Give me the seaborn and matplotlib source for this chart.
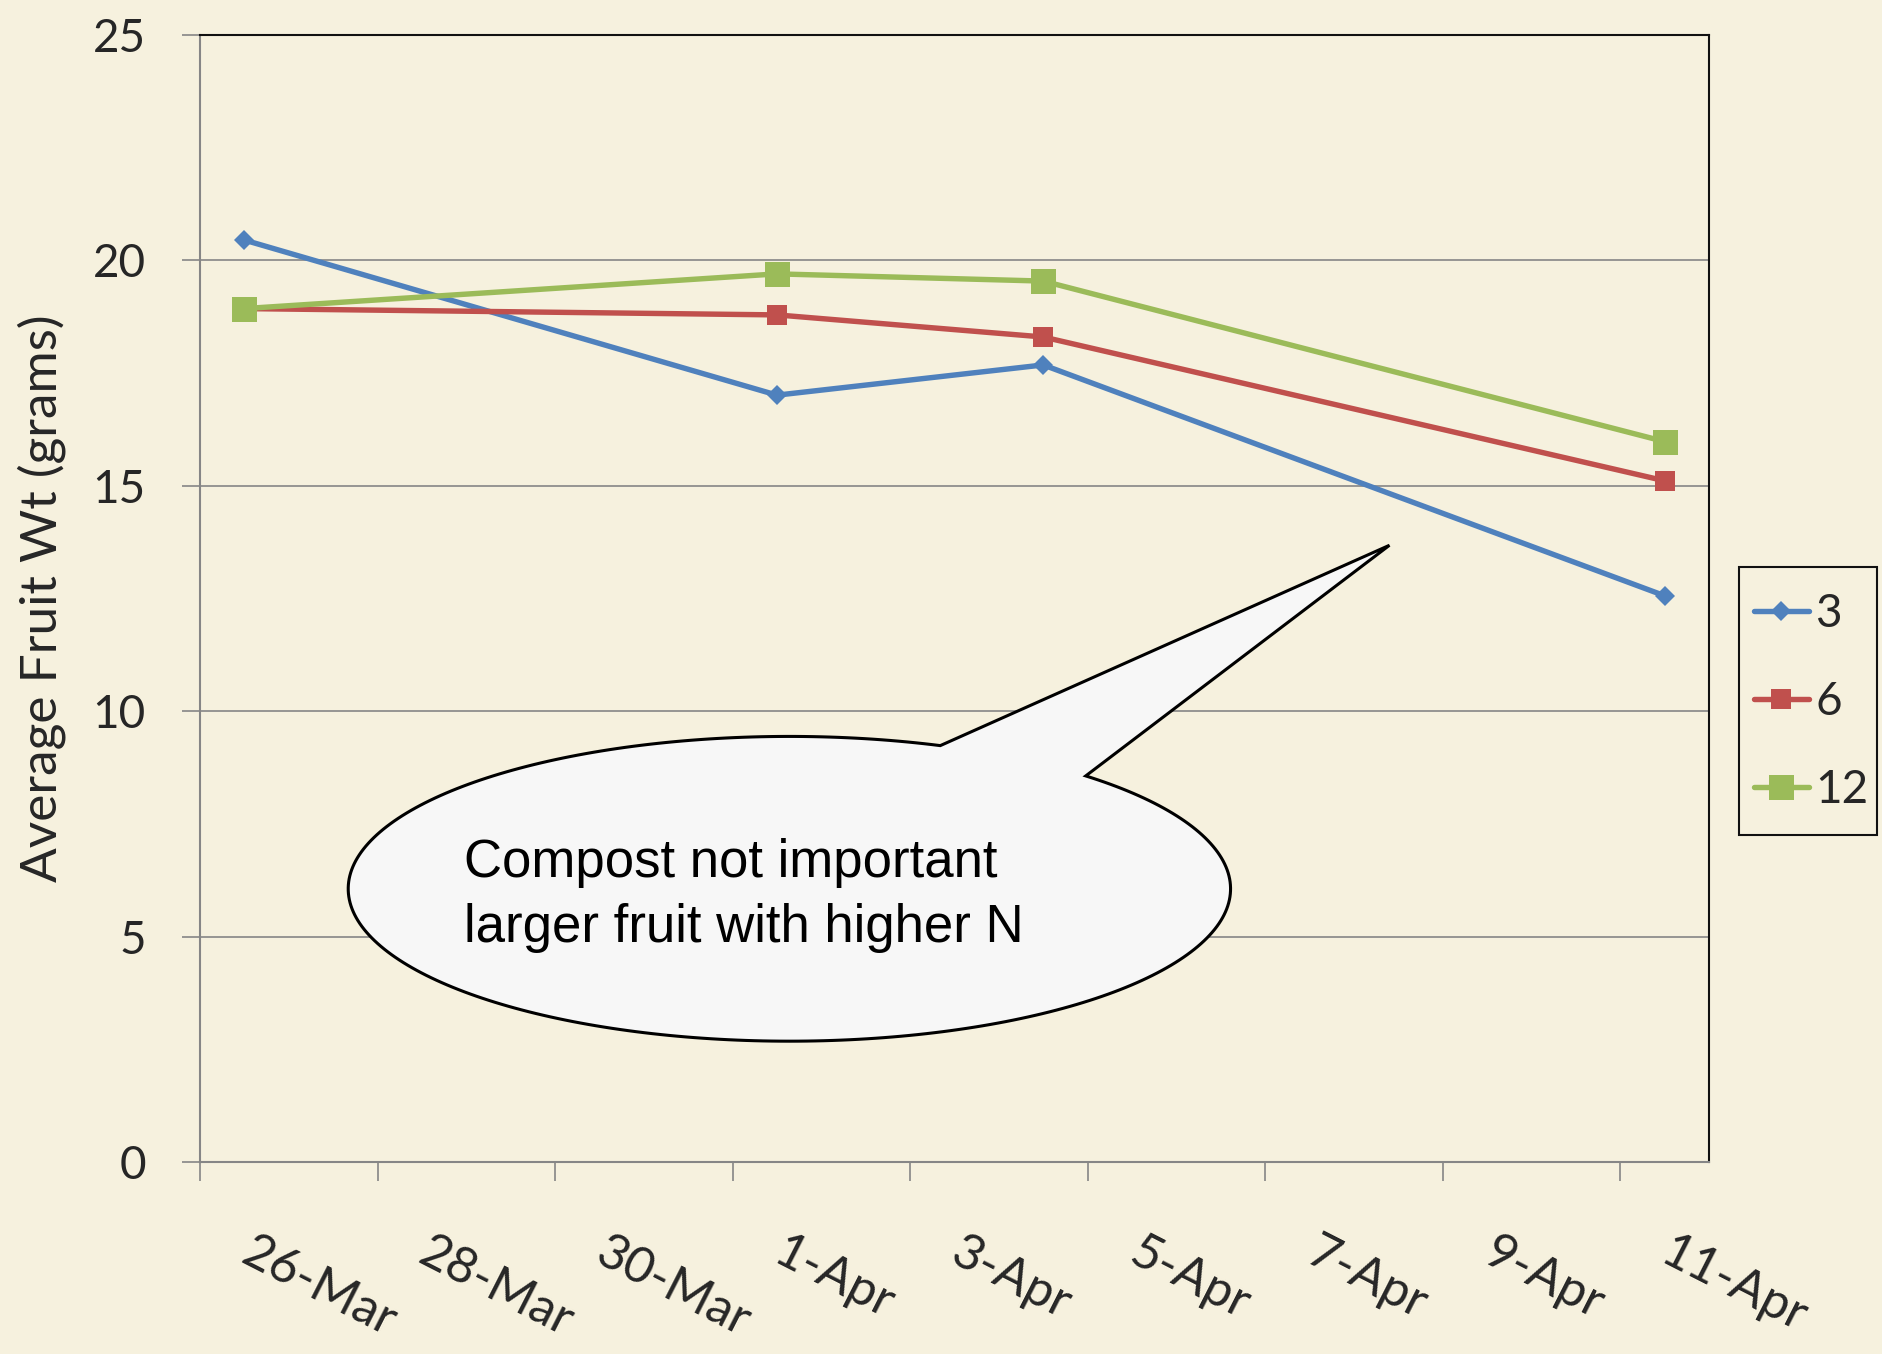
import numpy as np
import pandas as pd
import matplotlib
matplotlib.use('Agg')
import matplotlib.pyplot as plt
import matplotlib.transforms as mtransforms
from matplotlib.patches import Rectangle
import seaborn as sns

# data (day 0 = 26-Mar, points sit at mid-day)
dates = ['26-Mar', '1-Apr', '4-Apr', '11-Apr']
days = [0.5, 6.5, 9.5, 16.5]
n_3 = [20.45, 17.01, 17.68, 12.56]
n_6 = [18.93, 18.79, 18.30, 15.11]
n_12 = [18.93, 19.70, 19.54, 15.98]

tick_days = [0, 2, 4, 6, 8, 10, 12, 14, 16]
tick_labels = ['26-Mar', '28-Mar', '30-Mar', '1-Apr', '3-Apr', '5-Apr', '7-Apr', '9-Apr', '11-Apr']
y_ticks = [0, 5, 10, 15, 20, 25]

note = 'Compost not important\nlarger fruit with higher N'

df = pd.DataFrame({
    'day': days * 3,
    'wt': n_3 + n_6 + n_12,
    'N': ['3'] * 4 + ['6'] * 4 + ['12'] * 4,
})

bg = '#F6F1DE'
colors = {'3': '#4F81BD', '6': '#C0504D', '12': '#9BBB59'}
markers = {'3': 'D', '6': 's', '12': 's'}
msizes = {'3': 10.5, '6': 14.5, '12': 18}

sns.set_style('white')
plt.rcParams['font.family'] = ['Lato', 'DejaVu Sans']

fig = plt.figure(figsize=(18.83, 13.54), dpi=100, facecolor=bg)
ax = fig.add_axes([0.1062, 0.1418, 0.8014, 0.8324])
ax.set_facecolor(bg)

handles = []
for key in ['3', '6', '12']:
    sub = df[df['N'] == key]
    sns.lineplot(data=sub, x='day', y='wt', ax=ax, color=colors[key], lw=3.9,
                 marker=markers[key], markersize=msizes[key], markeredgewidth=0,
                 zorder=3, label=key, legend=False)
    handles.append(ax.lines[-1])

ax.set_xlim(0, 17)
ax.set_ylim(0, 25)
ax.set_yticks(y_ticks)
ax.set_yticklabels([str(v) for v in y_ticks], fontsize=33)
ax.set_xticks(tick_days)
ax.set_xticklabels(tick_labels, fontsize=36, rotation=-27, ha='left', va='top',
                   rotation_mode='anchor')

ax.grid(axis='y', color='#868686', lw=1.2, zorder=1)
ax.set_axisbelow(True)
ax.tick_params(axis='y', direction='out', length=13, width=1.2, color='#868686',
               pad=26, left=True)
ax.tick_params(axis='x', direction='out', length=14, width=1.2, color='#868686',
               pad=34, bottom=True)
# nudge the slanted date labels to the right, like the original
shift = mtransforms.ScaledTranslation(0.55, 0, fig.dpi_scale_trans)
for lab in ax.get_xticklabels():
    lab.set_transform(lab.get_transform() + shift)

for side in ['left', 'bottom']:
    ax.spines[side].set_color('#868686')
    ax.spines[side].set_linewidth(1.5)
for side in ['top', 'right']:
    ax.spines[side].set_color('#111111')
    ax.spines[side].set_linewidth(1.5)
    ax.spines[side].set_visible(True)

ax.set_xlabel('')
ax.set_ylabel('Average Fruit Wt (grams)', fontsize=37)
ax.yaxis.set_label_coords(-0.089, 0.50)

# speech-bubble callout (data units)
cx, cy, ea, eb = 6.64, 6.06, 4.97, 3.38
tip = (13.4, 13.68)
a0, a1 = np.deg2rad(70), np.deg2rad(360 + 47.8)
t = np.linspace(a0, a1, 300)
bx = np.concatenate([cx + ea * np.cos(t), [tip[0]], [cx + ea * np.cos(a0)]])
by = np.concatenate([cy + eb * np.sin(t), [tip[1]], [cy + eb * np.sin(a0)]])
ax.fill(bx, by, facecolor='#F7F7F7', edgecolor='black', lw=2.2, zorder=5,
        joinstyle='miter')
ax.text(2.98, 5.92, note, fontsize=38, family='Liberation Sans', color='black',
        ha='left', va='center', linespacing=1.38, zorder=6)

leg = fig.legend(handles=handles, labels=['3', '6', '12'], loc='center',
                 bbox_to_anchor=(0.9618, 0.4815), fontsize=33, frameon=False,
                 handlelength=1.2, handletextpad=0.15, labelspacing=1.0,
                 borderpad=0.2)
fig.add_artist(Rectangle((1739 / 1883, 1 - 835 / 1354), 138 / 1883, 268 / 1354,
                         transform=fig.transFigure, fill=False,
                         edgecolor='#111111', lw=1.5))

fig.savefig('out.png', dpi=100, facecolor=bg)
